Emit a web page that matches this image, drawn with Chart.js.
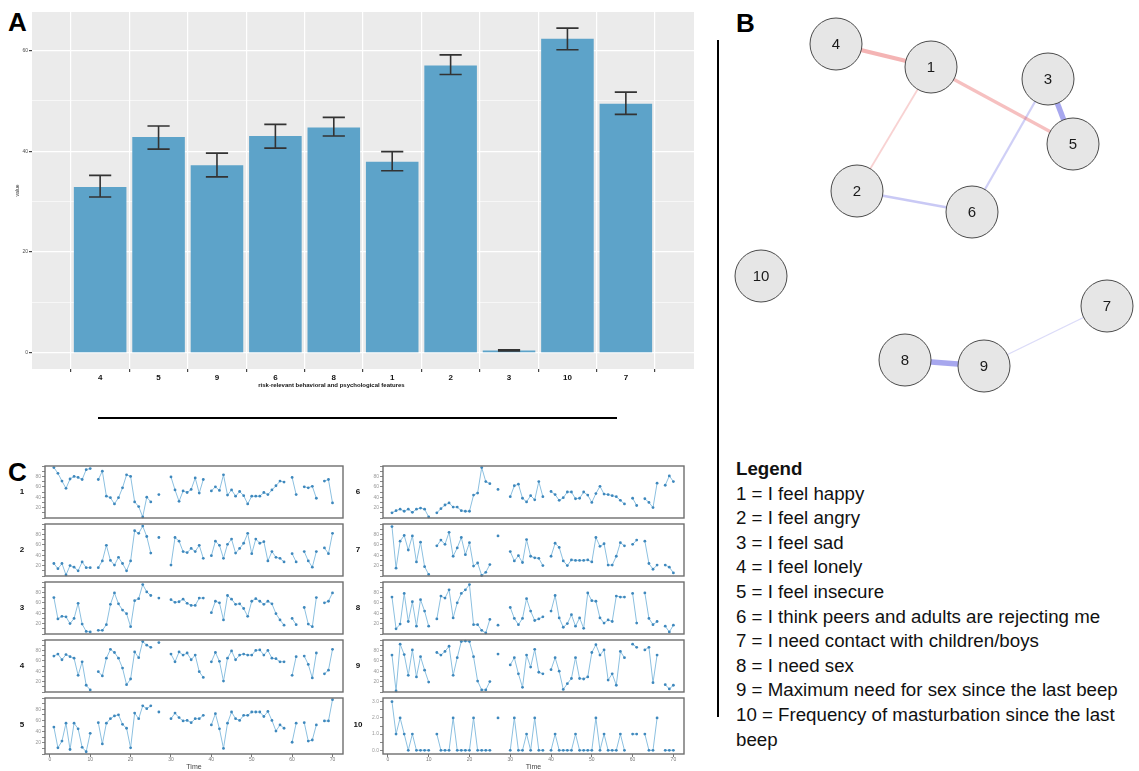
<!DOCTYPE html>
<html>
<head>
<meta charset="utf-8">
<script src="https://cdn.jsdelivr.net/npm/chart.js@4.4.0/dist/chart.umd.min.js"></script>
<style>
  html, body { margin: 0; padding: 0; background: #fff; }
  #page { position: relative; width: 1139px; height: 771px; overflow: hidden; font-family: "Liberation Sans", Arial, sans-serif; color: #111; }
  canvas { position: absolute; }
  .tag { position: absolute; font-weight: bold; font-size: 26px; line-height: 1; color: #000; }
  .row { position: absolute; font-weight: bold; font-size: 8px; width: 20px; text-align: center; line-height: 8px; }
  #legend { position: absolute; left: 736px; top: 457px; font-size: 18.7px; line-height: 24.6px; white-space: nowrap; }
  .rule { position: absolute; background: #000; }
</style>
</head>
<body>
<div id="page">
  <div class="tag" style="left:8px; top:8.6px">A</div>
  <div class="tag" style="left:736px; top:9.6px">B</div>
  <div class="tag" style="left:8px; top:458.6px">C</div>
  <canvas id="bars" width="700" height="395" style="left:0; top:0"></canvas>
  <canvas id="net" width="414" height="400" style="left:725px; top:0"></canvas>
  <div class="rule" style="left:98px; top:417px; width:519px; height:2px"></div>
  <div class="rule" style="left:717px; top:40px; width:2px; height:677px"></div>
  <div id="legend">
    <b>Legend</b><br>
    1 = I feel happy<br>
    2 = I feel angry<br>
    3 = I feel sad<br>
    4 = I feel lonely<br>
    5 = I feel insecure<br>
    6 = I think peers and adults are rejecting me<br>
    7 = I need contact with children/boys<br>
    8 = I need sex<br>
    9 = Maximum need for sex since the last beep<br>
    10 = Frequency of masturbation since the last<br>
    beep
  </div>
</div>
<script>
// panel A: mean per feature with error bars
const categories = ['4', '5', '9', '6', '8', '1', '2', '3', '10', '7'];
const barValues  = [32.9, 42.8, 37.2, 43.0, 44.7, 37.9, 57.0, 0.45, 62.3, 49.4];
const barErrLow  = [30.9, 40.4, 34.9, 40.6, 43.0, 36.1, 55.2, 0.35, 60.1, 47.3];
const barErrHigh = [35.2, 45.0, 39.6, 45.3, 46.7, 39.9, 59.1, 0.60, 64.4, 51.7];
const barTicks = [0, 20, 40, 60];

// panel B: network nodes (layout units) and edges
const nodeLabels = ['1', '2', '3', '4', '5', '6', '7', '8', '9', '10'];
const nodeX = [206, 132, 323, 111, 348, 247, 382, 180, 259, 36];
const nodeY = [67, 191, 79, 44, 144, 212, 306, 360, 366, 276];
const edgeFrom = ['4', '1', '1', '3', '3', '2', '8', '9'];
const edgeTo   = ['1', '5', '2', '5', '6', '6', '9', '7'];
const edgeWeight = [0.45, 0.35, 0.2, -0.6, -0.25, -0.3, -0.6, -0.15];

// panel C: time series per item (share of panel range), null = missing beep
const timePoints = [1,2,3,4,5,6,7,8,9,10,11,12,13,14,15,16,17,18,19,20,21,22,23,24,25,26,27,28,29,30,31,32,33,34,35,
  36,37,38,39,40,41,42,43,44,45,46,47,48,49,50,51,52,53,54,55,56,57,58,59,60,61,62,63,64,65,66,67,68,69,70];
const s1 = [97,86,71,57,75,80,78,74,93,95,null,74,90,42,39,27,39,58,83,80,31,22,2,40,31,null,45,null,null,79,54,32,52,49,55,77,48,74,null,
  52,60,53,83,44,54,42,51,43,27,42,42,42,49,45,54,62,71,69,null,78,45,null,60,58,61,38,null,71,74,29];
const s2 = [24,14,24,2,20,17,10,27,16,16,null,16,29,59,30,21,36,24,10,29,87,82,96,76,44,null,74,null,null,21,74,67,47,45,53,47,59,34,null,
  39,67,59,34,61,71,44,53,63,82,43,71,63,66,29,47,36,34,27,null,43,27,null,47,29,17,47,null,54,43,82];
const s3 = [70,29,34,33,20,30,59,19,5,4,null,7,7,18,57,79,58,46,39,14,64,68,95,81,74,null,69,null,null,66,61,62,67,59,55,55,69,69,null,
  41,63,60,27,74,67,57,58,49,34,63,68,63,57,63,58,39,27,17,null,30,18,null,51,19,14,70,null,60,63,79];
const s4 = [69,73,62,72,68,65,32,58,13,4,null,39,31,65,82,76,65,46,14,25,77,66,97,90,86,null,95,null,null,73,58,77,71,75,62,71,39,28,null,
  58,76,59,21,65,79,62,71,73,71,71,80,81,71,80,65,64,58,58,null,32,68,null,69,53,27,75,null,35,42,82];
const s5 = [48,11,23,55,8,55,45,12,4,37,null,56,18,55,63,68,70,53,46,11,73,63,86,81,86,null,75,null,null,63,73,65,59,60,56,63,63,69,null,
  52,72,45,10,55,75,63,60,69,69,75,75,75,67,76,60,41,52,46,null,21,55,null,56,23,25,52,null,59,59,97];
const s6 = [10,14,17,13,17,11,17,19,17,2,null,10,18,25,29,21,21,14,13,13,44,48,97,70,66,null,55,null,null,41,62,65,38,31,43,35,70,41,null,
  51,45,34,39,50,50,37,38,50,44,30,47,61,46,45,43,41,34,27,null,38,24,null,37,30,20,67,null,63,81,70];
const s7 = [95,15,67,78,50,77,27,65,18,3,null,58,69,61,84,38,54,74,41,64,19,25,1,7,22,null,77,null,null,47,29,39,26,70,38,35,34,20,null,
  38,63,55,29,20,31,30,30,30,31,27,74,57,62,21,21,38,64,58,null,61,69,null,67,24,13,21,null,21,17,6];
const s8 = [71,10,19,78,24,62,15,66,44,15,null,29,73,69,85,31,60,78,85,95,18,18,7,2,28,null,17,null,null,51,30,18,30,68,44,26,29,33,null,
  44,74,31,13,20,37,15,31,11,79,64,63,31,21,27,24,73,71,71,null,78,21,null,79,30,18,24,null,15,4,17];
const s9 = [71,2,92,72,32,81,29,68,42,19,null,76,71,78,88,32,66,97,98,97,68,21,4,4,20,null,73,null,null,52,66,35,9,71,48,82,38,35,null,
  43,66,40,5,16,26,66,26,25,29,76,91,71,81,23,35,13,78,66,null,92,86,null,81,86,18,71,null,14,6,13];
const s10 = [3,1,2,1,0,1,0,0,0,0,null,1,0,0,0,2,0,0,0,0,2,0,0,0,0,null,2,null,null,0,2,0,0,1,0,2,0,0,null,
  0,1,0,0,0,0,1,0,0,0,0,2,0,1,0,0,0,1,0,null,1,1,null,1,0,0,2,null,0,0,0];
const panelSeries = [s1, s2, s3, s4, s5, s6, s7, s8, s9, s10];
const panelNames = ['1', '2', '3', '4', '5', '6', '7', '8', '9', '10'];
const panelMin = [0, 0, 0, 0, 0, 0, 0, 0, 0, -0.23];
const panelMax = [100, 100, 100, 100, 100, 100, 100, 100, 100, 3.23];
const panelStep = [10, 10, 10, 10, 10, 10, 10, 10, 10, 0.5];
const panelLabelEvery = [20, 20, 20, 20, 20, 20, 20, 20, 20, 1];
const timeTicks = [0, 10, 20, 30, 40, 50, 60, 70];

Chart.defaults.font.family = '"Liberation Sans", Arial, sans-serif';
Chart.defaults.animation = false;
Chart.defaults.responsive = false;
Chart.defaults.devicePixelRatio = 1;
Chart.defaults.plugins.legend.display = false;
Chart.defaults.plugins.tooltip.enabled = false;

// ---------- A ----------
const grayPanel = {
  id: 'grayPanel',
  beforeDraw(chart) {
    const a = chart.chartArea, ctx = chart.ctx;
    ctx.save();
    ctx.fillStyle = '#EBEBEB';
    ctx.fillRect(a.left, a.top, a.right - a.left, a.bottom - a.top);
    ctx.restore();
  }
};

const errorBars = {
  id: 'errorBars',
  afterDatasetsDraw(chart) {
    const {ctx, scales: {x, y}} = chart;
    ctx.save();
    ctx.strokeStyle = '#333';
    ctx.lineWidth = 1.6;
    barErrLow.forEach((lo, i) => {
      const cx = x.getPixelForValue(i + 1);
      const half = x.getPixelForValue(i + 1.19) - cx;
      const yl = y.getPixelForValue(lo), yh = y.getPixelForValue(barErrHigh[i]);
      ctx.beginPath();
      ctx.moveTo(cx, yl); ctx.lineTo(cx, yh);
      ctx.moveTo(cx - half, yl); ctx.lineTo(cx + half, yl);
      ctx.moveTo(cx - half, yh); ctx.lineTo(cx + half, yh);
      ctx.stroke();
    });
    // x axis title sits off-centre in the original figure
    ctx.font = 'bold 6px "Liberation Sans", Arial, sans-serif';
    ctx.fillStyle = '#111';
    ctx.textAlign = 'center';
    ctx.textBaseline = 'middle';
    ctx.fillText('risk-relevant behavioral and psychological features', x.getPixelForValue(4.96), 385);
    ctx.restore();
  }
};

new Chart(document.getElementById('bars'), {
  type: 'bar',
  data: {
    datasets: [{
      data: barValues.map((v, i) => ({x: i + 1, y: v})),
      backgroundColor: '#5DA3C9',
      categoryPercentage: 1,
      barPercentage: 0.9
    }]
  },
  options: {
    layout: {padding: {top: 12, right: 6, left: 0, bottom: 0}, autoPadding: false},
    scales: {
      x: {
        type: 'linear', min: 0.4, max: 10.6,
        afterFit: s => { s.height = 26; },
        border: {display: false},
        grid: {color: '#FFFFFF', lineWidth: 1.2, tickColor: '#444', tickLength: 3},
        ticks: {
          stepSize: 1, includeBounds: false, autoSkip: false, maxRotation: 0,
          padding: 1, color: '#111', font: {size: 8, weight: 'bold'},
          callback: v => categories[v - 1] ?? ''
        }
      },
      y: {
        min: -3.22, max: 67.6,
        afterFit: s => { s.width = 32; },
        border: {display: false},
        grid: {
          color: '#FFFFFF',
          lineWidth: c => (barTicks.includes(c.tick.value) ? 1.2 : 0.6),
          tickColor: c => (c.tick && barTicks.includes(c.tick.value) ? '#444' : 'rgba(0,0,0,0)'),
          tickLength: 3
        },
        ticks: {
          stepSize: 10, includeBounds: false, padding: 1, color: '#4D4D4D', font: {size: 5},
          callback: v => (barTicks.includes(v) ? String(v) : '')
        },
        title: {display: true, text: 'value', color: '#333', font: {size: 5}, padding: {top: 15, bottom: 0}}
      }
    }
  },
  plugins: [grayPanel, errorBars]
});

// ---------- B ----------
const nodePts = nodeLabels.map((l, i) => ({x: nodeX[i], y: nodeY[i]}));
const edgeSets = edgeFrom.map((f, i) => {
  const w = edgeWeight[i];
  const a = 0.12 + Math.abs(w) * 0.72;
  const p = nodePts[nodeLabels.indexOf(f)], q = nodePts[nodeLabels.indexOf(edgeTo[i])];
  return {
    order: 1,
    data: [{x: p.x, y: p.y}, {x: q.x, y: q.y}],
    showLine: true,
    borderColor: w > 0 ? `rgba(230,85,85,${a})` : `rgba(95,95,225,${a})`,
    borderWidth: Math.abs(w) * 9,
    pointRadius: 0,
    clip: false
  };
});

const nodeText = {
  id: 'nodeText',
  afterDatasetsDraw(chart) {
    const ctx = chart.ctx;
    ctx.save();
    ctx.font = '15px "Liberation Sans", Arial, sans-serif';
    ctx.fillStyle = '#1a1a1a';
    ctx.textAlign = 'center';
    ctx.textBaseline = 'middle';
    chart.getDatasetMeta(0).data.forEach((pt, i) => ctx.fillText(nodeLabels[i], pt.x, pt.y + 1));
    ctx.restore();
  }
};

new Chart(document.getElementById('net'), {
  type: 'scatter',
  data: {
    datasets: [{
      order: 0,
      data: nodePts,
      pointRadius: 26,
      backgroundColor: '#E6E6E6',
      borderColor: '#4a4a4a',
      borderWidth: 1,
      clip: false
    }].concat(edgeSets)
  },
  options: {
    layout: {padding: 0, autoPadding: false},
    scales: {
      x: {type: 'linear', min: 0, max: 414, display: false},
      y: {type: 'linear', min: 0, max: 400, reverse: true, display: false}
    }
  },
  plugins: [nodeText]
});

// ---------- C ----------
const boxFrame = {
  id: 'boxFrame',
  afterDraw(chart) {
    const a = chart.chartArea, ctx = chart.ctx;
    ctx.save();
    ctx.strokeStyle = '#6E6E6E';
    ctx.lineWidth = 1.4;
    ctx.strokeRect(a.left, a.top, a.right - a.left, a.bottom - a.top);
    ctx.restore();
  }
};

const page = document.getElementById('page');
const colLeft = [45, 383], colRight = [343, 684];
const rowTop = [463, 521, 579, 637, 695], rowBottom = 754;

panelSeries.forEach((vals, k) => {
  const col = Math.floor(k / 5), row = k % 5;
  const top = rowTop[row], bottom = row < 4 ? rowTop[row + 1] : rowBottom;
  const last = row === 4;
  const cv = document.createElement('canvas');
  cv.width = colRight[col] - colLeft[col] + 31;
  cv.height = bottom - top + 1 + (last ? 17 : 1);
  cv.style.left = (colLeft[col] - 30) + 'px';
  cv.style.top = (top - 1) + 'px';
  page.appendChild(cv);

  const lab = document.createElement('div');
  lab.className = 'row';
  lab.textContent = panelNames[k];
  lab.style.left = (col === 0 ? 12 : 348) + 'px';
  lab.style.top = ((top + bottom) / 2 - 4) + 'px';
  page.appendChild(lab);

  const step = panelStep[k], every = panelLabelEvery[k];
  const labelFor = v => {
    const r = Math.round(v * 100) / 100;
    if (r <= panelMin[k] || r >= panelMax[k]) return '';
    const q = r / every;
    if (Math.abs(q - Math.round(q)) > 1e-6) return '';
    return every < 5 ? r.toFixed(1) : String(r);
  };
  new Chart(cv, {
    type: 'line',
    data: {
      datasets: [{
        data: timePoints.map((t, i) => ({x: t, y: vals[i]})),
        borderColor: '#8CC0E0',
        borderWidth: 1,
        pointRadius: 1.4,
        pointBackgroundColor: '#3E88BD',
        pointBorderWidth: 0,
        spanGaps: false,
        clip: 4
      }]
    },
    options: {
      layout: {padding: {top: 1, right: 1, left: 0, bottom: last ? 0 : 1}, autoPadding: false},
      scales: {
        x: {
          type: 'linear', min: -1.2, max: 72.6,
          display: last,
          afterFit: s => { s.height = last ? 17 : 0; },
          border: {display: false},
          grid: {drawOnChartArea: false, tickLength: 3, tickColor: '#777'},
          ticks: {
            stepSize: 10, includeBounds: false, padding: 0, color: '#777', font: {size: 5},
            callback: v => (timeTicks.includes(v) ? String(v) : null)
          },
          title: {display: true, text: 'Time', color: '#444', font: {size: 7, lineHeight: 1}, padding: 0}
        },
        y: {
          min: panelMin[k], max: panelMax[k],
          afterFit: s => { s.width = 30; },
          border: {display: false},
          grid: {drawOnChartArea: false, tickLength: 3, tickColor: '#888'},
          ticks: {
            stepSize: step, includeBounds: false, autoSkip: false, padding: 1, color: '#999', font: {size: 5},
            callback: labelFor
          }
        }
      }
    },
    plugins: [boxFrame]
  });
});
</script>
</body>
</html>
